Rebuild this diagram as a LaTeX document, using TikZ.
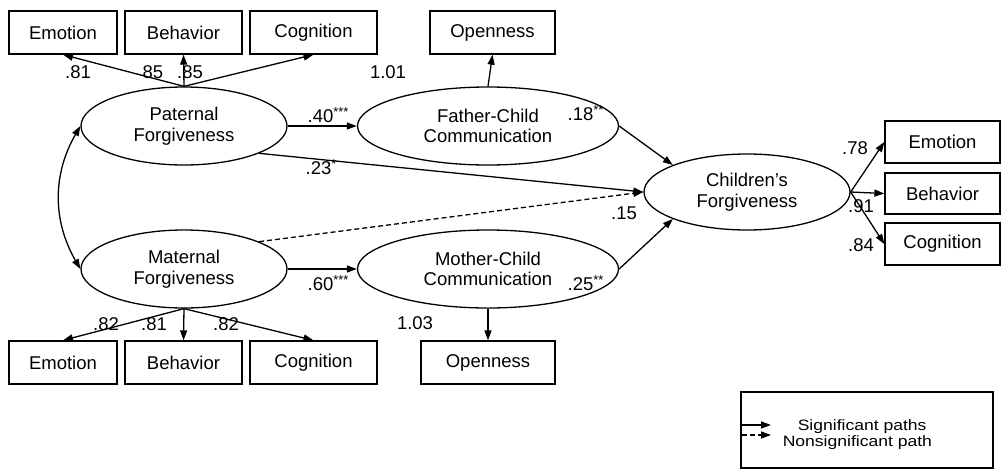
\documentclass[tikz,border=0pt]{standalone}
\usepackage{fontspec}
\setmainfont{Liberation Sans}
\usepackage{tikz}
\usetikzlibrary{arrows.meta,shapes.geometric}

\tikzset{
  obsbox/.style={draw, minimum height=43pt, inner sep=0pt},
  latent/.style={draw, ellipse, minimum height=78pt, inner sep=0pt, align=center},
  coef/.style={inner sep=0pt},
  path/.style={-{Triangle[length=10pt,width=7pt]}},
  keytext/.style={inner sep=0pt, anchor=base west, font=\fontsize{15}{16}\selectfont,
    xscale=1.17, transform shape},
}

\begin{document}
\begin{tikzpicture}[x=1pt,y=1pt,line width=1.3pt,
    font=\fontsize{18.5}{20.5}\selectfont]
  \useasboundingbox (0,0) rectangle (1003,-471);
  % latent variables
  \node[latent, minimum width=206pt] (pat) at (184,-126) {Paternal\\Forgiveness};
  \node[latent, minimum width=206pt] (mat) at (184,-269) {Maternal\\Forgiveness};
  \node[latent, minimum width=261pt] (fcc) at (488,-126) {Father-Child\\Communication};
  \node[latent, minimum width=261pt] (mcc) at (488,-269) {Mother-Child\\Communication};
  \node[latent, minimum width=206pt, minimum height=76pt] (chi) at (747,-192) {Children's\\Forgiveness};
  % indicators
  \node[obsbox, minimum width=108pt] (emoT) at (63,-32.5) {Emotion};
  \node[obsbox, minimum width=117pt] (behT) at (183.5,-32.5) {Behavior};
  \node[obsbox, minimum width=127pt] (cogT) at (313.5,-32.5) {Cognition};
  \node[obsbox, minimum width=125pt] (opnT) at (492.5,-32.5) {Openness};
  \node[obsbox, minimum width=108pt] (emoB) at (63,-362.5) {Emotion};
  \node[obsbox, minimum width=117pt] (behB) at (183.5,-362.5) {Behavior};
  \node[obsbox, minimum width=127pt] (cogB) at (313.5,-362.5) {Cognition};
  \node[obsbox, minimum width=134pt] (opnB) at (488,-362.5) {Openness};
  \node[obsbox, minimum width=115pt, minimum height=42pt] (emoR) at (942.5,-142) {Emotion};
  \node[obsbox, minimum width=115pt, minimum height=41pt] (behR) at (942.5,-193.5) {Behavior};
  \node[obsbox, minimum width=115pt, minimum height=42pt] (cogR) at (942.5,-244) {Cognition};

  % loadings
  \draw[path] (pat.north) -- (emoT.south);
  \draw[path] (pat.north) -- (behT.south);
  \draw[path] (pat.north) -- (cogT.south);
  \draw[path] (mat.south) -- (emoB.north);
  \draw[path] (mat.south) -- (behB.north);
  \draw[path] (mat.south) -- (cogB.north);
  \draw[path] (fcc.north) -- (opnT.south);
  \draw[path] (mcc.south) -- (opnB.north);
  \draw[path] (chi.east) -- (emoR.west);
  \draw[path] (chi.east) -- (behR.west);
  \draw[path] (chi.east) -- (cogR.west);
  % structural paths
  \draw[{Triangle[length=10pt,width=7pt]}-{Triangle[length=10pt,width=7pt]}]
    (pat.west) to[out=240,in=120] (mat.west);
  \draw[path] (pat.east) -- (fcc.west);
  \draw[path] (mat.east) -- (mcc.west);
  \draw[path] (fcc.east) -- (chi.160);
  \draw[path] (mcc.east) -- (chi.200);
  \draw[path] (pat.-20) -- (chi.west);
  \draw[path, dash pattern=on 5pt off 3pt] (mat.20) -- (chi.west);

  % coefficients
  \node[coef] (l1) at (78,-72) {.81};
  \node[coef] (l2) at (153,-72) {85};
  \node[coef] (l3) at (190,-72) {.85};
  \node[coef] (l4) at (388,-72) {1.01};
  \node[coef, anchor=west] (l5) at (307,-115) {.40\textsuperscript{***}};
  \node[coef, anchor=west] (l6) at (567,-113) {.18\textsuperscript{**}};
  \node[coef, anchor=west] (l7) at (305,-167) {.23\textsuperscript{*}};
  \node[coef] (l8) at (624,-213) {.15};
  \node[coef, anchor=west] (l9) at (307,-283) {.60\textsuperscript{***}};
  \node[coef, anchor=west] (l10) at (567,-283) {.25\textsuperscript{**}};
  \node[coef] (l11) at (415,-323) {1.03};
  \node[coef] (l12) at (106,-324) {.82};
  \node[coef] (l13) at (154,-324) {.81};
  \node[coef] (l14) at (226,-324) {.82};
  \node[coef] (l15) at (855,-148) {.78};
  \node[coef] (l16) at (861,-206) {.91};
  \node[coef] (l17) at (861,-245) {.84};

  % legend
  \node[draw, minimum width=252pt, minimum height=76pt, inner sep=0pt] (key) at (867,-430) {};
  \coordinate (s1) at (742,-425);
  \coordinate (s2) at (771,-425);
  \coordinate (n1) at (742,-435);
  \coordinate (n2) at (771,-435);
  \draw[path] (s1) -- (s2);
  \draw[path, dash pattern=on 5pt off 3pt] (n1) -- (n2);
  \node[keytext] (sig) at (797,-430) {Significant paths};
  \node[keytext] (nsig) at (782,-446) {Nonsignificant path};
\end{tikzpicture}
\end{document}
